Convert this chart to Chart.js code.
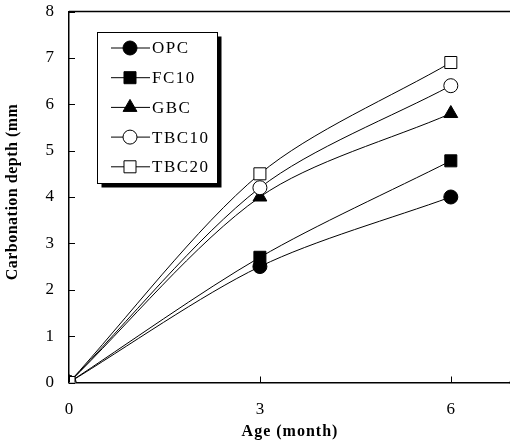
<!DOCTYPE html>
<html>
<head>
<meta charset="utf-8">
<script src="https://cdn.jsdelivr.net/npm/chart.js@4"></script>
<style>
  html, body { margin: 0; padding: 0; background: #fff; }
  #wrap { width: 510px; height: 445px; }
</style>
</head>
<body>
<div id="wrap"><canvas id="carbChart" width="510" height="445"></canvas></div>
<script>
const ages = [0, 3, 6];
const seriesNames = ['OPC', 'FC10', 'GBC', 'TBC10', 'TBC20'];
const opc = [0, 2.5, 4.0];
const fc10 = [0, 2.7, 4.78];
const gbc = [0, 4.0, 5.8];
const tbc10 = [0, 4.2, 6.4];
const tbc20 = [0, 4.5, 6.9];
const xTicks = [0, 3, 6];
const yTicks = [0, 1, 2, 3, 4, 5, 6, 7, 8];

const serif = '"Liberation Serif", "Times New Roman", serif';

const styles = [
  { pointStyle: 'circle', fill: '#000', radius: 7 },
  { pointStyle: 'rect', fill: '#000', radius: 8.5 },
  { pointStyle: 'triangle', fill: '#000', radius: 8 },
  { pointStyle: 'circle', fill: '#fff', radius: 7 },
  { pointStyle: 'rect', fill: '#fff', radius: 8.5 }
];
const allValues = [opc, fc10, gbc, tbc10, tbc20];

const datasets = allValues.map((vals, i) => ({
  label: seriesNames[i],
  data: ages.map((a, j) => ({ x: a, y: vals[j] })),
  borderColor: '#000',
  borderWidth: 1,
  tension: 0.3,
  pointStyle: styles[i].pointStyle,
  pointRadius: styles[i].radius,
  pointBackgroundColor: styles[i].fill,
  pointBorderColor: '#000',
  pointBorderWidth: 1,
  order: seriesNames.length - i,
  fill: false
}));

// inward ticks, top frame line, axis titles, legend box with shadow
const extras = {
  id: 'extras',
  afterDraw(chart) {
    const { ctx, chartArea } = chart;
    const xs = chart.scales.x, ys = chart.scales.y;
    ctx.save();
    ctx.strokeStyle = '#000';
    ctx.lineWidth = 1;
    ctx.beginPath();
    xTicks.forEach(v => {
      const px = Math.round(xs.getPixelForValue(v)) + 0.5;
      ctx.moveTo(px, chartArea.bottom);
      ctx.lineTo(px, chartArea.bottom - 6);
    });
    yTicks.forEach(v => {
      const py = Math.round(ys.getPixelForValue(v)) + 0.5;
      ctx.moveTo(chartArea.left, py);
      ctx.lineTo(chartArea.left + 6, py);
    });
    ctx.stroke();

    ctx.lineWidth = 1.5;
    ctx.beginPath();
    ctx.moveTo(chartArea.left, chartArea.top);
    ctx.lineTo(chart.width, chartArea.top);
    ctx.moveTo(chartArea.right - 1, chartArea.bottom);
    ctx.lineTo(chart.width, chartArea.bottom);
    ctx.stroke();

    // axis titles
    ctx.fillStyle = '#000';
    ctx.font = 'bold 16px ' + serif;
    ctx.letterSpacing = '1px';
    ctx.textAlign = 'center';
    ctx.textBaseline = 'middle';
    ctx.fillText('Age (month)', 290, 432);
    ctx.save();
    ctx.translate(13, 192);
    ctx.rotate(-Math.PI / 2);
    ctx.letterSpacing = '0.5px';
    ctx.fillText('Carbonation depth (mm', 0, 0);
    ctx.restore();

    // legend
    const bx = 97.5, by = 32.5, bw = 120, bh = 151;
    ctx.lineWidth = 1;
    ctx.fillStyle = '#000';
    ctx.fillRect(bx + 4, by + 4, bw, bh);
    ctx.fillStyle = '#fff';
    ctx.fillRect(bx, by, bw, bh);
    ctx.strokeRect(bx, by, bw, bh);
    ctx.font = '17px ' + serif;
    ctx.textBaseline = 'middle';
    ctx.textAlign = 'left';
    ctx.letterSpacing = '1.5px';
    seriesNames.forEach((name, i) => {
      const ry = 48 + i * 29.7;
      ctx.beginPath();
      ctx.moveTo(111, ry);
      ctx.lineTo(150, ry);
      ctx.stroke();
      const st = styles[i];
      ctx.fillStyle = st.fill;
      ctx.strokeStyle = '#000';
      Chart.helpers.drawPoint(ctx, { pointStyle: st.pointStyle, radius: st.radius, borderWidth: 1, rotation: 0 }, 130, ry);
      ctx.fillStyle = '#000';
      ctx.fillText(name, 152, ry + 1);
    });
    ctx.restore();
  }
};

new Chart(document.getElementById('carbChart').getContext('2d'), {
  type: 'line',
  data: { datasets },
  options: {
    responsive: false,
    animation: false,
    layout: { autoPadding: false, padding: { top: 11.5, right: 0, left: 0, bottom: 0 } },
    plugins: { legend: { display: false }, tooltip: { enabled: false } },
    scales: {
      x: {
        type: 'linear',
        min: 0,
        max: 6.93,
        afterBuildTicks: (s) => { s.ticks = xTicks.map(v => ({ value: v })); },
        afterFit: (s) => { s.height = 62.5; s.paddingLeft = 0; s.paddingRight = 0; },
        grid: { display: false, drawTicks: false },
        border: { color: '#000', width: 1.5 },
        ticks: { color: '#000', font: { family: serif, size: 17 }, padding: 17, maxRotation: 0 },
        title: { display: false }
      },
      y: {
        min: 0,
        max: 8,
        afterBuildTicks: (s) => { s.ticks = yTicks.map(v => ({ value: v })); },
        afterFit: (s) => { s.width = 69; s.paddingTop = 0; s.paddingBottom = 0; },
        grid: { display: false, drawTicks: false },
        border: { color: '#000', width: 1.5 },
        ticks: { color: '#000', font: { family: serif, size: 17 }, padding: 15 },
        title: { display: false }
      }
    }
  },
  plugins: [extras]
});
</script>
</body>
</html>
